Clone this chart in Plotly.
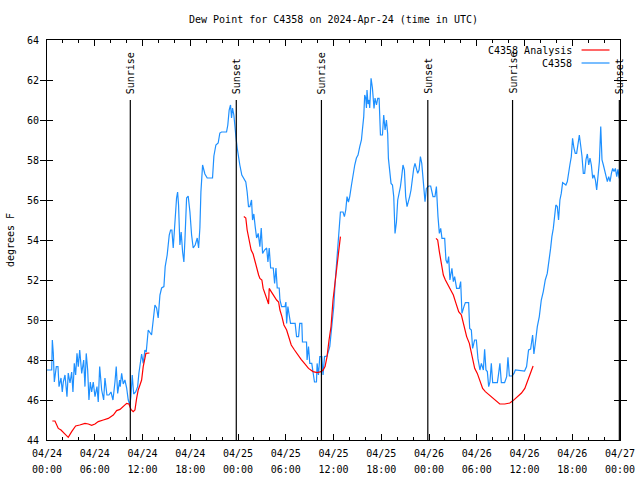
import pandas as pd
import plotly.graph_objects as go

# ---------------- data ----------------
START = "2024-04-24 00:00"
END = "2024-04-27 00:00"

# C4358 observations: hours since START, dew point (F)
obs_hours = [0.00, 0.59, 0.67, 0.79, 0.92, 1.17, 1.38, 1.51, 1.76, 1.92, 2.05, 2.26, 2.51, 2.67, 2.89,
             3.10, 3.26, 3.43, 3.60, 3.77, 3.93, 4.11, 4.36, 4.61, 4.77, 4.93, 5.11, 5.27, 5.44, 5.61,
             5.81, 6.03, 6.28, 6.44, 6.62, 6.87, 7.12, 7.28, 7.53, 7.78, 8.04, 8.29, 8.54, 8.70, 8.88,
             9.13, 9.20, 9.38, 9.58, 9.79, 10.01, 10.21, 10.42, 10.55, 10.71, 10.89, 11.14, 11.39, 11.55,
             11.71, 11.89, 12.09, 12.30, 12.47, 12.72, 13.14, 13.35, 13.56, 13.77, 13.97, 14.19, 14.40,
             14.69, 14.85, 15.10, 15.36, 15.53, 15.69, 15.86, 16.07, 16.28, 16.41, 16.53, 16.70, 16.86,
             17.04, 17.20, 17.33, 17.54, 17.74, 17.96, 18.17, 18.37, 18.62, 18.88, 19.05, 19.21, 19.34,
             19.55, 19.84, 20.13, 20.80, 20.97, 21.22, 21.51, 21.72, 21.93, 22.56, 22.72, 22.89, 23.06,
             23.19, 23.31, 23.48, 23.64, 23.73, 23.90, 24.07, 24.23, 24.48, 24.73, 24.98, 25.15, 25.32,
             25.49, 25.70, 25.83, 25.99, 26.16, 26.34, 26.54, 26.75, 26.92, 27.09, 27.34, 27.60, 27.76,
             27.92, 28.10, 28.43, 28.60, 28.77, 28.93, 29.18, 29.27, 29.48, 29.90, 30.02, 30.11, 30.27,
             30.43, 30.60, 31.18, 31.36, 31.61, 31.76, 32.02, 32.10, 32.61, 32.68, 32.86, 33.02, 33.27,
             33.43, 33.61, 33.86, 33.94, 34.11, 34.28, 34.53, 34.69, 34.87, 35.19, 35.53, 35.78, 36.03,
             36.20, 36.37, 36.53, 36.70, 36.87, 37.20, 37.37, 37.54, 37.70, 37.88, 38.04, 38.26, 38.46,
             38.67, 38.88, 39.08, 39.30, 39.51, 39.63, 39.80, 39.92, 40.05, 40.14, 40.21, 40.34, 40.47,
             40.55, 40.72, 40.89, 40.97, 41.09, 41.22, 41.40, 41.56, 41.73, 41.90, 42.15, 42.31, 42.48,
             42.65, 42.81, 42.90, 43.06, 43.23, 43.41, 43.57, 43.73, 43.91, 44.07, 44.23, 44.41, 44.57,
             44.73, 44.91, 45.07, 45.24, 45.41, 45.57, 45.74, 45.91, 46.08, 46.24, 46.42, 46.58, 46.75,
             46.92, 47.09, 47.25, 47.42, 47.50, 47.67, 47.84, 47.97, 48.21, 48.50, 48.75, 48.93, 49.13,
             49.30, 49.47, 49.63, 49.97, 50.13, 50.31, 50.47, 50.63, 50.88, 51.06, 51.22, 51.47, 51.81,
             51.98, 52.14, 52.39, 52.57, 52.98, 53.11, 53.32, 53.48, 53.73, 53.95, 54.15, 54.40, 54.58,
             54.83, 54.99, 55.16, 55.33, 55.50, 55.66, 55.83, 56.00, 56.59, 56.75, 56.91, 57.09, 57.50,
             57.76, 57.92, 58.10, 58.43, 58.68, 58.85, 60.01, 60.26, 60.51, 60.77, 61.02, 61.18, 61.36,
             61.61, 61.86, 62.11, 62.36, 62.61, 62.86, 63.11, 63.28, 63.44, 63.62, 63.78, 63.94, 64.12,
             64.28, 64.45, 64.62, 64.79, 65.20, 65.38, 65.54, 65.70, 65.88, 66.04, 66.21, 66.38, 66.55,
             66.71, 66.89, 67.05, 67.22, 67.39, 67.56, 67.73, 67.90, 68.07, 68.23, 68.40, 68.57, 68.73,
             68.91, 69.07, 69.24, 69.41, 69.58, 69.74, 69.91, 70.07, 70.24, 70.41, 70.58, 70.75, 70.92,
             71.08, 71.25, 71.42, 71.59, 71.74, 71.91]
obs_dewpt = [47.5, 47.5, 49.0, 48.35, 46.9, 47.67, 47.67, 46.67, 47.1, 46.4, 46.9, 47.25, 46.17, 47.35, 46.85,
             47.4, 46.4, 47.83, 47.25, 48.33, 47.67, 48.5, 47.33, 48.0, 46.67, 48.33, 47.5, 46.0, 46.9, 46.4,
             46.9, 46.17, 46.67, 45.9, 47.67, 46.5, 46.0, 47.1, 46.25, 46.25, 46.4, 46.0, 46.9, 47.67, 46.33,
             47.0, 46.67, 47.33, 46.8, 47.0, 46.6, 46.0, 45.75, 46.2, 47.25, 46.3, 46.4, 46.67, 47.35,
             47.8, 48.3, 47.83, 48.5, 48.4, 49.5, 49.25, 50.08, 50.75, 50.6, 50.1, 51.25, 51.6,
             51.67, 52.67, 53.25, 54.25, 54.5, 54.5, 53.6, 54.9, 56.1, 56.4, 55.75, 53.75, 54.4,
             53.4, 52.9, 54.0, 56.1, 56.2, 55.4, 54.25, 53.6, 53.75, 54.1, 53.6, 54.6, 56.4,
             57.75, 57.3, 57.1, 57.1, 58.2, 58.75, 58.85, 59.35, 59.4, 59.4, 59.75, 60.5, 60.75,
             60.1, 60.6, 60.25, 59.75, 59.2, 58.6, 58.0, 57.75, 57.25, 57.1, 56.9, 56.4, 55.67,
             55.67, 56.0, 55.0, 55.3, 54.67, 54.1, 54.33, 53.67, 54.6, 53.33, 53.5, 53.6, 52.9,
             53.6, 52.6, 52.6, 51.83, 52.6, 51.6, 51.6, 51.0, 50.67, 50.67, 50.9, 49.83, 50.67,
             50.25, 49.83, 49.83, 49.17, 49.17, 49.83, 49.83, 48.9, 48.9, 48.0, 48.67, 47.83, 47.83,
             47.4, 46.9, 46.9, 47.83, 47.25, 48.17, 48.17, 47.25, 48.17, 48.2, 48.67, 49.67, 50.67,
             51.83, 52.67, 53.67, 54.5, 55.4, 55.4, 55.17, 55.5, 56.17, 55.9, 56.17, 56.75, 57.33,
             57.75, 58.1, 58.25, 58.67, 59.0, 59.5, 60.17, 61.25, 61.1, 60.6, 61.5, 60.8, 61.0,
             60.6, 62.08, 61.6, 60.9, 60.58, 61.1, 60.75, 61.08, 61.08, 59.25, 59.25, 60.25, 59.5,
             60.0, 59.3, 58.08, 57.4, 56.83, 56.75, 56.17, 54.33, 54.9, 56.0, 56.25, 56.67, 57.17,
             57.75, 57.5, 56.17, 55.67, 55.9, 56.17, 56.5, 57.08, 57.58, 57.83, 57.5, 57.33, 57.5,
             58.17, 57.83, 57.17, 56.5, 55.92, 56.58, 56.67, 56.7, 56.7, 56.17, 56.17, 56.67, 55.17,
             54.33, 54.58, 54.08, 54.08, 53.0, 52.83, 53.17, 52.0, 52.58, 51.92, 52.17, 51.58, 51.58,
             51.92, 50.33, 50.67, 50.87, 50.87, 49.58, 49.5, 48.58, 49.0, 49.0, 48.08, 47.5, 47.83,
             47.5, 48.53, 47.5, 47.42, 46.67, 46.9, 47.83, 46.87, 46.87, 47.33, 47.83, 46.87, 46.87,
             47.17, 48.13, 47.2, 47.2, 47.33, 47.5, 47.45, 47.67, 48.5, 48.55, 49.25, 48.3, 48.83,
             49.67, 50.17, 51.0, 51.42, 52.0, 52.33, 53.0, 53.58, 54.17, 54.58, 55.17, 55.75, 55.67,
             55.0, 56.0, 56.33, 56.87, 56.75, 56.92, 57.5, 57.75, 58.17, 59.08, 58.6, 58.33, 58.33,
             58.9, 59.25, 58.75, 58.2, 57.33, 57.33, 58.03, 58.3, 57.75, 58.1, 57.75, 57.08, 57.25,
             57.0, 56.5, 57.35, 57.92, 59.67, 58.0, 57.75, 57.5, 57.17, 56.92, 57.17, 56.92, 57.33,
             57.58, 57.42, 57.58, 57.17, 57.53, 57.08]

# C4358 Analysis: three separate runs (hours since START, dew point F)
ana1_hours = [0.67, 1.00, 1.42, 1.76, 2.17, 2.67, 3.10, 3.60, 4.11, 4.77, 5.19, 5.61, 6.03, 6.44, 7.07,
              7.70, 8.33, 8.75, 9.17, 9.58, 10.01, 10.30, 10.55, 10.83, 11.05, 11.26, 11.46, 11.68,
              11.89, 12.09, 12.30, 12.43, 12.87]
ana1_dewpt = [44.95, 44.95, 44.58, 44.5, 44.33, 44.13, 44.42, 44.7, 44.75, 44.83, 44.8, 44.73, 44.8, 44.92,
              45.0, 45.08, 45.25, 45.47, 45.53, 45.7, 45.83, 45.8, 45.53, 45.42, 45.5, 46.08, 46.5, 46.75,
              47.0, 47.67, 48.17, 48.33, 48.35]
ana2_hours = [24.73, 24.98, 25.15, 25.40, 25.65, 25.90, 26.07, 26.34, 26.59, 26.75, 27.00, 27.16, 27.40,
              27.67, 27.84, 27.92, 28.17, 28.43, 28.85, 29.10, 29.27, 29.52, 29.77, 30.11, 30.36, 30.69,
              31.10, 31.51, 31.93, 32.35, 32.86, 33.43, 33.94, 34.44, 34.69, 34.94, 35.19, 35.44, 35.69,
              35.94, 36.20, 36.37, 36.62, 36.87]
ana2_dewpt = [55.17, 55.1, 54.5, 54.08, 53.5, 53.3, 53.0, 52.58, 52.25, 52.08, 52.0, 51.58, 51.25,
              51.0, 50.8, 51.58, 51.42, 51.25, 51.0, 50.9, 50.5, 50.17, 49.75, 49.5, 49.17, 48.75,
              48.5, 48.25, 48.03, 47.83, 47.58, 47.42, 47.37, 47.42, 47.5, 47.67, 48.17, 49.0, 49.67,
              51.0, 51.92, 52.67, 53.5, 54.17]
ana3_hours = [48.88, 49.09, 49.30, 49.55, 49.80, 50.06, 50.38, 50.72, 51.06, 51.39, 51.73, 52.07, 52.39,
              52.73, 53.07, 53.40, 53.74, 54.07, 54.40, 54.74, 55.08, 55.41, 55.83, 56.26, 56.89, 57.52,
              58.15, 58.57, 59.20, 59.62, 60.04, 60.45, 60.79, 61.08]
ana3_dewpt = [54.08, 54.0, 53.42, 52.83, 52.25, 52.0, 51.75, 51.5, 51.25, 50.83, 50.42, 50.25, 49.67,
              49.17, 48.83, 48.17, 47.58, 47.33, 46.92, 46.58, 46.42, 46.3, 46.17, 46.0, 45.8, 45.8,
              45.85, 45.97, 46.17, 46.35, 46.58, 47.0, 47.35, 47.7]

sun_times = ["2024-04-24 10:28", "2024-04-24 23:47", "2024-04-25 10:29",
             "2024-04-25 23:51", "2024-04-26 10:30", "2024-04-26 23:55"]
sun_labels = ["Sunrise", "Sunset", "Sunrise", "Sunset", "Sunrise", "Sunset"]

y_ticks = [44, 46, 48, 50, 52, 54, 56, 58, 60, 62, 64]
title_text = "Dew Point for C4358 on 2024-Apr-24 (time in UTC)"
y_title = "degrees F"
names = ["C4358 Analysis", "C4358"]
colors = ["#ff0000", "#1e90ff"]

# ---------------- figure ----------------
base = pd.Timestamp(START)


def to_time(hours):
    return base + pd.to_timedelta(hours, unit="h")


FONT = "DejaVu Sans Mono"
fig = go.Figure()

ana_x = []
ana_y = []
for hrs, vals in [(ana1_hours, ana1_dewpt), (ana2_hours, ana2_dewpt), (ana3_hours, ana3_dewpt)]:
    ana_x += list(to_time(hrs)) + [None]
    ana_y += list(vals) + [None]

fig.add_trace(go.Scatter(x=to_time(obs_hours), y=obs_dewpt, mode="lines", name=names[1],
                         line=dict(color=colors[1], width=1.2)))
fig.add_trace(go.Scatter(x=ana_x, y=ana_y, mode="lines", name=names[0], connectgaps=False,
                         line=dict(color=colors[0], width=1.2)))
# invisible helper trace so that the second (time-of-day) label row is drawn
fig.add_trace(go.Scatter(x=[START, END], y=[None, None], xaxis="x2", mode="lines",
                         showlegend=False, hoverinfo="skip"))

LINE_TOP = 61.0
for t, lab in zip(sun_times, sun_labels):
    fig.add_shape(type="line", x0=t, x1=t, y0=y_ticks[0], y1=LINE_TOP, xref="x", yref="y",
                  line=dict(color="black", width=1.2))
    fig.add_annotation(x=t, y=LINE_TOP + 0.2, xref="x", yref="y", text=lab, textangle=-90,
                       showarrow=False, xanchor="center", yanchor="bottom",
                       font=dict(family=FONT, size=10, color="black"))

# gnuplot-style key: text right-aligned, sample line to the right
key_rows = [0.975, 0.9425]
for name, col, yk in zip(names, colors, key_rows):
    fig.add_annotation(x=0.92, y=yk, xref="paper", yref="paper", text=name, showarrow=False,
                       xanchor="right", yanchor="middle", font=dict(family=FONT, size=10, color="black"))
    fig.add_shape(type="line", x0=0.9329, x1=0.9817, y0=yk, y1=yk, xref="paper", yref="paper",
                  line=dict(color=col, width=1.2))

fig.add_annotation(x=-0.0645, y=0.5, xref="paper", yref="paper", text=y_title, textangle=-90,
                   showarrow=False, xanchor="center", yanchor="middle",
                   font=dict(family=FONT, size=10, color="black"))

common_x = dict(range=[START, END], type="date", showgrid=False, zeroline=False, automargin=False,
                dtick=6 * 3600 * 1000, tick0=START)

fig.update_layout(
    width=640, height=480,
    margin=dict(l=47, r=20, t=40, b=40, autoexpand=False),
    paper_bgcolor="white", plot_bgcolor="white",
    showlegend=False,
    font=dict(family=FONT, size=10, color="black"),
    title=dict(text=title_text, x=0.5, xref="paper", y=1 - 19 / 480, yref="container",
               xanchor="center", yanchor="middle", font=dict(family=FONT, size=10, color="black")),
    xaxis=dict(**common_x,
               showline=True, linecolor="black", linewidth=1, mirror="allticks",
               ticks="inside", ticklen=6, tickcolor="black",
               tickformat="%m/%d", ticklabelstandoff=4,
               minor=dict(dtick=2 * 3600 * 1000, tick0=START, ticks="inside", ticklen=3,
                          tickcolor="black", showgrid=False)),
    xaxis2=dict(**common_x, overlaying="x", anchor="y", side="bottom",
                showline=False, ticks="", tickformat="%H:%M", ticklabelstandoff=22),
    yaxis=dict(range=[y_ticks[0], y_ticks[-1]], showgrid=False, zeroline=False, automargin=False,
               showline=True, linecolor="black", linewidth=1, mirror="allticks",
               ticks="inside", ticklen=6, tickcolor="black", ticklabelstandoff=5,
               tickvals=y_ticks, ticktext=[str(v) for v in y_ticks]),
)

fig.write_html("out.html", config={"displayModeBar": False},
               post_script="document.body.style.margin='0';document.body.style.overflow='hidden';")
